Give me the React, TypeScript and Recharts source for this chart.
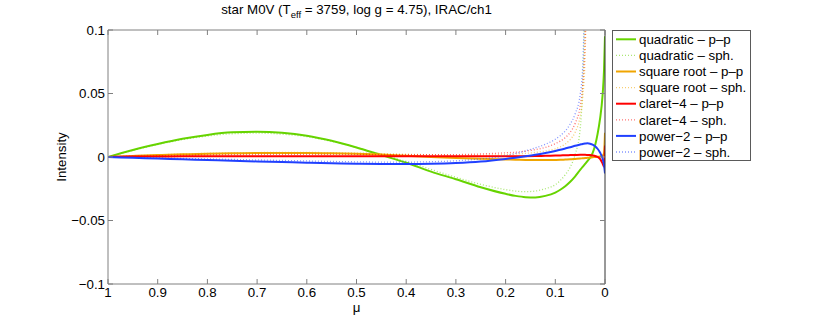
import React from "react";
import { LineChart, Line, XAxis, YAxis } from "recharts";

const FONT = '"Liberation Sans", Arial, Helvetica, sans-serif';
const AXIS = "#808080";

// limb angle grid (mu), left to right on the reversed axis
const mu = [
  1, 0.95, 0.9, 0.85, 0.8, 0.75, 0.7, 0.65, 0.6, 0.55, 0.5, 0.45, 0.4, 0.35, 0.3, 0.25, 0.2,
  0.18, 0.16, 0.14, 0.12, 0.1, 0.09, 0.08, 0.07, 0.06, 0.05,
  0.045, 0.04, 0.035, 0.03, 0.025, 0.02, 0.015, 0.01, 0.005, 0.002, 0,
];

const quadPP = [
  0, 0.0055, 0.0102, 0.0143, 0.0174, 0.0194, 0.0199, 0.0191, 0.0168, 0.0128, 0.0075, 0.0015, -0.0045, -0.0115, -0.0175, -0.0238, -0.029,
  -0.0306, -0.0316, -0.0318, -0.0306, -0.028, -0.0258, -0.023, -0.0195, -0.0152, -0.0102,
  -0.0078, -0.0055, -0.003, -0.0005, 0.003, 0.009, 0.018, 0.03, 0.048, 0.068, 0.095,
];
const quadSph = [
  0, 0.0052, 0.0098, 0.0137, 0.0165, 0.0183, 0.0188, 0.018, 0.016, 0.0124, 0.0075, 0.002, -0.0035, -0.0098, -0.016, -0.0215, -0.0257,
  -0.0268, -0.0273, -0.0268, -0.025, -0.0218, -0.0185, -0.014, -0.008, 0.002, 0.022,
  0.055, 0.13, 0.25, 0.4, null, null, null, null, null, null, null,
];
const sqrtPP = [
  0, 0.0008, 0.0015, 0.0021, 0.0026, 0.0029, 0.0031, 0.0032, 0.0032, 0.003, 0.0026, 0.0019, 0.0009, 0.0, -0.0007, -0.0013, -0.0019,
  -0.0021, -0.0023, -0.0024, -0.0024, -0.0023, -0.0022, -0.002, -0.0018, -0.0015, -0.0012,
  -0.001, -0.0008, -0.0006, -0.0004, -0.0002, 0.0, 0.0002, 0.0005, 0.001, 0.003, 0.019,
];
const sqrtSph = [
  0, 0.0009, 0.0017, 0.0024, 0.0029, 0.0033, 0.0035, 0.0036, 0.0036, 0.0034, 0.0031, 0.0027, 0.0022, 0.0018, 0.0015, 0.0015, 0.002,
  0.0024, 0.0029, 0.0036, 0.0047, 0.0065, 0.008, 0.0102, 0.0137, 0.0195, 0.032,
  0.046, 0.08, 0.19, 0.42, null, null, null, null, null, null, null,
];
const claretPP = [
  0, 0.0003, 0.0004, 0.0005, 0.0005, 0.0005, 0.0005, 0.0005, 0.0005, 0.0005, 0.0005, 0.0005, 0.0005, 0.0005, 0.0005, 0.0005, 0.0005,
  0.0006, 0.0006, 0.0007, 0.0009, 0.0011, 0.0012, 0.0014, 0.0015, 0.0016, 0.0017,
  0.0017, 0.0017, 0.0016, 0.0015, 0.0012, 0.0008, 0.0, -0.0015, -0.005, -0.0075, 0.009,
];
const claretSph = [
  0, 0.0005, 0.001, 0.0014, 0.0017, 0.0019, 0.002, 0.0021, 0.0021, 0.0021, 0.002, 0.0019, 0.0018, 0.0018, 0.0019, 0.0024, 0.0033,
  0.0038, 0.0046, 0.0058, 0.0075, 0.0105, 0.0125, 0.0152, 0.0195, 0.0265, 0.04,
  0.056, 0.095, 0.21, 0.46, null, null, null, null, null, null, null,
];
const powerPP = [
  0, -0.0006, -0.0012, -0.0018, -0.0024, -0.003, -0.0035, -0.004, -0.0045, -0.0049, -0.0053, -0.0055, -0.0056, -0.0054, -0.0048, -0.0036, -0.0015,
  -0.0005, 0.0006, 0.0018, 0.0032, 0.0048, 0.0057, 0.0067, 0.0077, 0.0088, 0.0098,
  0.0103, 0.0106, 0.0108, 0.0105, 0.0098, 0.0085, 0.0065, 0.0035, -0.001, -0.006, -0.013,
];
const powerSph = [
  0, -0.0003, -0.0007, -0.0011, -0.0015, -0.0019, -0.0023, -0.0027, -0.0031, -0.0035, -0.0038, -0.004, -0.004, -0.0037, -0.003, -0.0015, 0.001,
  0.0028, 0.0048, 0.0072, 0.01, 0.014, 0.0168, 0.0205, 0.026, 0.034, 0.049,
  0.07, 0.14, 0.26, 0.5, null, null, null, null, null, null, null,
];

const xTicks = [0, 0.1, 0.2, 0.3, 0.4, 0.5, 0.6, 0.7, 0.8, 0.9, 1];
const yTicks = [-0.1, -0.05, 0, 0.05, 0.1];

const series = [
  { key: "quadPP", name: "quadratic \u2013 p\u2013p", color: "#66d400", dotted: false },
  { key: "quadSph", name: "quadratic \u2013 sph.", color: "#66d400", dotted: true },
  { key: "sqrtPP", name: "square root \u2013 p\u2013p", color: "#f0a500", dotted: false },
  { key: "sqrtSph", name: "square root \u2013 sph.", color: "#f0a500", dotted: true },
  { key: "claretPP", name: "claret\u22124 \u2013 p\u2013p", color: "#ff0000", dotted: false },
  { key: "claretSph", name: "claret\u22124 \u2013 sph.", color: "#ff0000", dotted: true },
  { key: "powerPP", name: "power\u22122 \u2013 p\u2013p", color: "#2040ff", dotted: false },
  { key: "powerSph", name: "power\u22122 \u2013 sph.", color: "#2040ff", dotted: true },
];

const rows = mu.map((m, i) => ({
  mu: m,
  quadPP: quadPP[i],
  quadSph: quadSph[i],
  sqrtPP: sqrtPP[i],
  sqrtSph: sqrtSph[i],
  claretPP: claretPP[i],
  claretSph: claretSph[i],
  powerPP: powerPP[i],
  powerSph: powerSph[i],
}));

const fmt = (v: number) => String(Number(v.toFixed(2))).replace("-", "\u2212");

const BottomTick = (p: any) => (
  <g>
    <line x1={p.x} x2={p.x} y1={p.y} y2={p.y - 5} stroke={AXIS} />
    <text x={p.x} y={p.y + 13} textAnchor="middle" fontSize={13.3} fontFamily={FONT} fill="#000">
      {fmt(p.payload.value)}
    </text>
  </g>
);
const TopTick = (p: any) => <line x1={p.x} x2={p.x} y1={p.y} y2={p.y + 5} stroke={AXIS} />;
const LeftTick = (p: any) => (
  <g>
    <line x1={p.x} x2={p.x + 5} y1={p.y} y2={p.y} stroke={AXIS} />
    <text x={p.x - 3} y={p.y + 4.7} textAnchor="end" fontSize={13.3} fontFamily={FONT} fill="#000">
      {fmt(p.payload.value)}
    </text>
  </g>
);
const RightTick = (p: any) => <line x1={p.x} x2={p.x - 5} y1={p.y} y2={p.y} stroke={AXIS} />;

export default function App() {
  return (
    <div style={{ position: "absolute", left: 0, top: 0, width: 830, height: 319, background: "#fff" }}>
      <LineChart width={830} height={319} data={rows} margin={{ top: 29, right: 224, bottom: 34, left: 107 }}>
        <XAxis
          dataKey="mu"
          type="number"
          domain={[0, 1]}
          reversed
          allowDataOverflow
          ticks={xTicks}
          interval={0}
          height={1}
          tickSize={0}
          tickMargin={0}
          tick={BottomTick}
          axisLine={{ stroke: AXIS }}
        />
        <XAxis
          xAxisId="top"
          dataKey="mu"
          orientation="top"
          type="number"
          domain={[0, 1]}
          reversed
          allowDataOverflow
          ticks={xTicks}
          interval={0}
          height={1}
          tickSize={0}
          tickMargin={0}
          tick={TopTick}
          axisLine={{ stroke: AXIS }}
        />
        <YAxis
          type="number"
          domain={[-0.1, 0.1]}
          allowDataOverflow
          ticks={yTicks}
          interval={0}
          width={1}
          tickSize={0}
          tickMargin={0}
          tick={LeftTick}
          axisLine={{ stroke: AXIS }}
        />
        <YAxis
          yAxisId="right"
          orientation="right"
          type="number"
          domain={[-0.1, 0.1]}
          allowDataOverflow
          ticks={yTicks}
          interval={0}
          width={1}
          tickSize={0}
          tickMargin={0}
          tick={RightTick}
          axisLine={{ stroke: "#333" }}
        />
        {series.map((s) => (
          <Line
            key={s.key}
            dataKey={s.key}
            name={s.name}
            type="monotone"
            stroke={s.color}
            strokeWidth={s.dotted ? 1.3 : 2}
            strokeOpacity={s.dotted ? 0.55 : 1}
            strokeDasharray={s.dotted ? "1 2" : undefined}
            dot={false}
            activeDot={false}
            connectNulls={false}
            isAnimationActive={false}
          />
        ))}
      </LineChart>
      <svg
        width={830}
        height={319}
        style={{ position: "absolute", left: 0, top: 0, pointerEvents: "none" }}
        fontFamily={FONT}
        fontSize={13.3}
      >
        <text x={356.5} y={14} textAnchor="middle" fill="#000">
          star M0V (T
          <tspan dy={4} fontSize={9.5}>eff</tspan>
          <tspan dy={-4}> = 3759, log g = 4.75), IRAC/ch1</tspan>
        </text>
        <text x={66} y={157} textAnchor="middle" transform="rotate(-90 66 157)" fill="#000">
          Intensity
        </text>
        <text x={356.5} y={312} textAnchor="middle" fill="#000">
          μ
        </text>
        <rect x={612.5} y={30.5} width={138} height={130} fill="#fff" stroke="#5a5a5a" />
        {series.map((s, i) => {
          const cy = 39.3 + i * 16.1;
          return (
            <g key={s.key}>
              <line
                x1={616}
                x2={636}
                y1={cy}
                y2={cy}
                stroke={s.color}
                strokeWidth={s.dotted ? 1.3 : 2}
                strokeOpacity={s.dotted ? 0.55 : 1}
                strokeDasharray={s.dotted ? "1 2" : undefined}
              />
              <text x={639} y={cy + 4.7} fill="#000">
                {s.name}
              </text>
            </g>
          );
        })}
      </svg>
    </div>
  );
}
